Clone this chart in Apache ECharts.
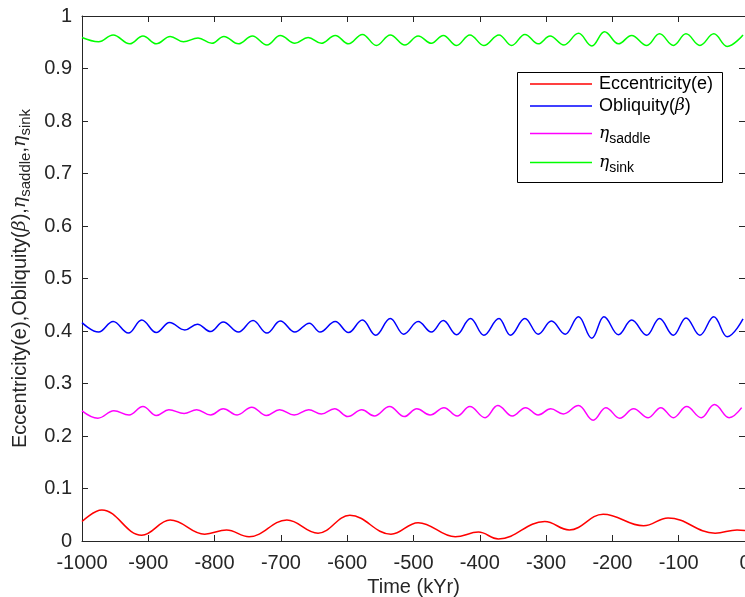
<!DOCTYPE html>
<html>
<head>
<meta charset="utf-8">
<script src="https://cdn.jsdelivr.net/npm/echarts@6/dist/echarts.min.js"></script>
<style>
  html, body { margin: 0; padding: 0; background: #fff; }
  #chart { width: 745px; height: 597px; }
</style>
</head>
<body>
<div id="chart"></div>
<script>
// Time axis (kYr) and tick settings
const timeMin = -1000;
const timeMax = 0;
const timeStep = 100;
const valueMin = 0;
const valueMax = 1;
const valueStep = 0.1;

// Eccentricity (e): turning points over the last 1000 kYr
const eccTime = [-1000, -970, -910, -867, -815, -782, -748, -691, -644, -596, -534, -493, -437, -402, -372, -302, -265, -214, -153, -116, -45, -12, 0];
const eccValue = [0.037, 0.059, 0.011, 0.040, 0.013, 0.021, 0.008, 0.040, 0.015, 0.049, 0.013, 0.035, 0.008, 0.017, 0.004, 0.037, 0.021, 0.051, 0.029, 0.044, 0.015, 0.021, 0.020];

// Obliquity (beta)
const oblTime = [-1000, -975, -953, -930, -910, -888, -868, -845, -826, -806, -787, -764, -742, -721, -701, -679, -657, -641, -618, -598, -577, -557, -535, -515, -493, -473, -455, -435, -414, -394, -371, -354, -332, -312, -292, -271, -251, -231, -213, -191, -171, -148, -129, -108, -89, -68, -47, -27, -3];
const oblValue = [0.416, 0.398, 0.418, 0.396, 0.421, 0.397, 0.416, 0.402, 0.413, 0.399, 0.417, 0.398, 0.420, 0.396, 0.419, 0.398, 0.415, 0.398, 0.418, 0.397, 0.421, 0.392, 0.424, 0.394, 0.418, 0.398, 0.420, 0.393, 0.424, 0.392, 0.424, 0.392, 0.424, 0.394, 0.419, 0.394, 0.427, 0.386, 0.427, 0.393, 0.421, 0.392, 0.424, 0.392, 0.425, 0.392, 0.427, 0.389, 0.423];

// eta_saddle
const saddleTime = [-1000, -976, -952, -929, -908, -888, -869, -846, -827, -806, -787, -766, -744, -722, -702, -680, -658, -639, -619, -599, -578, -559, -536, -514, -495, -475, -454, -434, -415, -392, -373, -351, -331, -312, -293, -274, -251, -229, -210, -189, -168, -146, -127, -108, -88, -66, -46, -24, -5];
const saddleValue = [0.248, 0.234, 0.248, 0.240, 0.256, 0.239, 0.250, 0.243, 0.250, 0.240, 0.252, 0.240, 0.255, 0.239, 0.250, 0.240, 0.250, 0.242, 0.252, 0.237, 0.250, 0.238, 0.256, 0.237, 0.252, 0.240, 0.254, 0.238, 0.256, 0.235, 0.258, 0.238, 0.254, 0.240, 0.252, 0.242, 0.258, 0.230, 0.254, 0.234, 0.252, 0.235, 0.254, 0.235, 0.256, 0.235, 0.260, 0.235, 0.254];

// eta_sink
const sinkTime = [-1000, -975, -953, -928, -908, -888, -867, -847, -825, -804, -786, -764, -743, -721, -701, -679, -659, -639, -618, -598, -577, -556, -535, -513, -493, -473, -455, -435, -415, -394, -371, -352, -332, -312, -294, -273, -251, -231, -212, -191, -171, -148, -129, -108, -89, -68, -47, -27, -3];
const sinkValue = [0.959, 0.951, 0.964, 0.947, 0.962, 0.947, 0.961, 0.951, 0.958, 0.948, 0.961, 0.947, 0.962, 0.945, 0.963, 0.948, 0.959, 0.948, 0.963, 0.947, 0.965, 0.944, 0.964, 0.945, 0.962, 0.948, 0.963, 0.944, 0.964, 0.944, 0.964, 0.944, 0.965, 0.947, 0.962, 0.945, 0.967, 0.943, 0.970, 0.947, 0.963, 0.944, 0.966, 0.944, 0.966, 0.944, 0.966, 0.942, 0.964];

const seriesNames = ['ecc', 'obl', 'saddle', 'sink'];
const seriesColors = ['#ff0000', '#0000ff', '#ff00ff', '#00ff00'];
const legendLabels = [
  'Eccentricity(e)',
  'Obliquity({it|β})',
  '{it|η}{sub|saddle}',
  '{it|η}{sub|sink}'
];
const yAxisTitle = 'Eccentricity(e),Obliquity({it|β}),{it|η}{sub|saddle},{it|η}{sub|sink}';
const xAxisTitle = 'Time (kYr)';

function pairs(xs, ys) {
  return xs.map((x, i) => [x, ys[i]]);
}

const FONT = '"Liberation Sans", Arial, Helvetica, sans-serif';
const SERIF = '"DejaVu Serif", "Liberation Serif", serif';
const AXIS_COLOR = '#262626';

const chart = echarts.init(document.getElementById('chart'), null, { renderer: 'canvas' });

function lineSeries(name, data, color) {
  return {
    name: name,
    type: 'line',
    data: data,
    xAxisIndex: 0,
    yAxisIndex: 0,
    showSymbol: false,
    symbol: 'none',
    smooth: 0.4,
    smoothMonotone: 'x',
    lineStyle: { color: color, width: 1.5 },
    itemStyle: { color: color },
    emphasis: { disabled: true },
    animation: false
  };
}

const baseX = {
  type: 'value',
  min: timeMin,
  max: timeMax,
  interval: timeStep,
  splitLine: { show: false },
  axisLine: { show: true, onZero: false, lineStyle: { color: AXIS_COLOR, width: 1 } },
  axisTick: { show: true, inside: true, length: 6, lineStyle: { color: AXIS_COLOR } }
};
const baseY = {
  type: 'value',
  min: valueMin,
  max: valueMax,
  interval: valueStep,
  splitLine: { show: false },
  axisLine: { show: true, onZero: false, lineStyle: { color: AXIS_COLOR, width: 1 } },
  axisTick: { show: true, inside: true, length: 6, lineStyle: { color: AXIS_COLOR } }
};

// Legend box: one legend per row inside a bordered white panel
const legendBox = { x: 517, y: 72, w: 205, h: 110 };
const legendRowTops = [75, 97, 125, 154];
const legendTextRich = {
  it: { fontFamily: SERIF, fontStyle: 'italic', fontSize: 17, color: '#000000' },
  sub: { fontFamily: FONT, fontSize: 14, color: '#000000', padding: [12, 0, 0, 0] }
};
const legends = seriesNames.map((name, i) => ({
  data: [name],
  orient: 'vertical',
  left: legendBox.x + 13,
  top: legendRowTops[i],
  padding: 0,
  itemWidth: 62,
  itemHeight: 1.5,
  icon: 'rect',
  selectedMode: false,
  z: 6,
  formatter: () => legendLabels[i],
  textStyle: {
    fontFamily: FONT, fontSize: 18, color: '#000000', padding: [0, 0, 0, 2],
    rich: legendTextRich
  }
}));

chart.setOption({
  backgroundColor: '#ffffff',
  animation: false,
  grid: { left: 82, right: 0, top: 16, bottom: 56, containLabel: false, outerBoundsMode: 'none' },
  xAxis: [
    Object.assign({}, baseX, {
      position: 'bottom',
      name: xAxisTitle,
      nameLocation: 'middle',
      nameGap: 30,
      nameTextStyle: { fontFamily: FONT, fontSize: 20, color: AXIS_COLOR },
      axisLabel: { fontFamily: FONT, fontSize: 20, color: AXIS_COLOR, margin: 12, formatter: v => String(v) }
    }),
    Object.assign({}, baseX, { position: 'top', axisLabel: { show: false } })
  ],
  yAxis: [
    Object.assign({}, baseY, {
      position: 'left',
      name: yAxisTitle,
      nameLocation: 'middle',
      nameGap: 49,
      nameTextStyle: {
        fontFamily: FONT, fontSize: 20, color: AXIS_COLOR,
        rich: {
          it: { fontFamily: SERIF, fontStyle: 'italic', fontSize: 19, color: AXIS_COLOR },
          sub: { fontFamily: FONT, fontSize: 15, color: AXIS_COLOR, padding: [11, 0, 0, 0] }
        }
      },
      axisLabel: { fontFamily: FONT, fontSize: 20, color: AXIS_COLOR, margin: 10 }
    }),
    Object.assign({}, baseY, { position: 'right', axisLabel: { show: false } })
  ],
  graphic: [{
    type: 'rect',
    z: 5,
    shape: { x: legendBox.x + 0.5, y: legendBox.y + 0.5, width: legendBox.w, height: legendBox.h },
    style: { fill: '#ffffff', stroke: '#000000', lineWidth: 1 }
  }],
  legend: legends,
  series: [
    lineSeries('ecc', pairs(eccTime, eccValue), seriesColors[0]),
    lineSeries('obl', pairs(oblTime, oblValue), seriesColors[1]),
    lineSeries('saddle', pairs(saddleTime, saddleValue), seriesColors[2]),
    lineSeries('sink', pairs(sinkTime, sinkValue), seriesColors[3])
  ]
});
</script>
</body>
</html>
